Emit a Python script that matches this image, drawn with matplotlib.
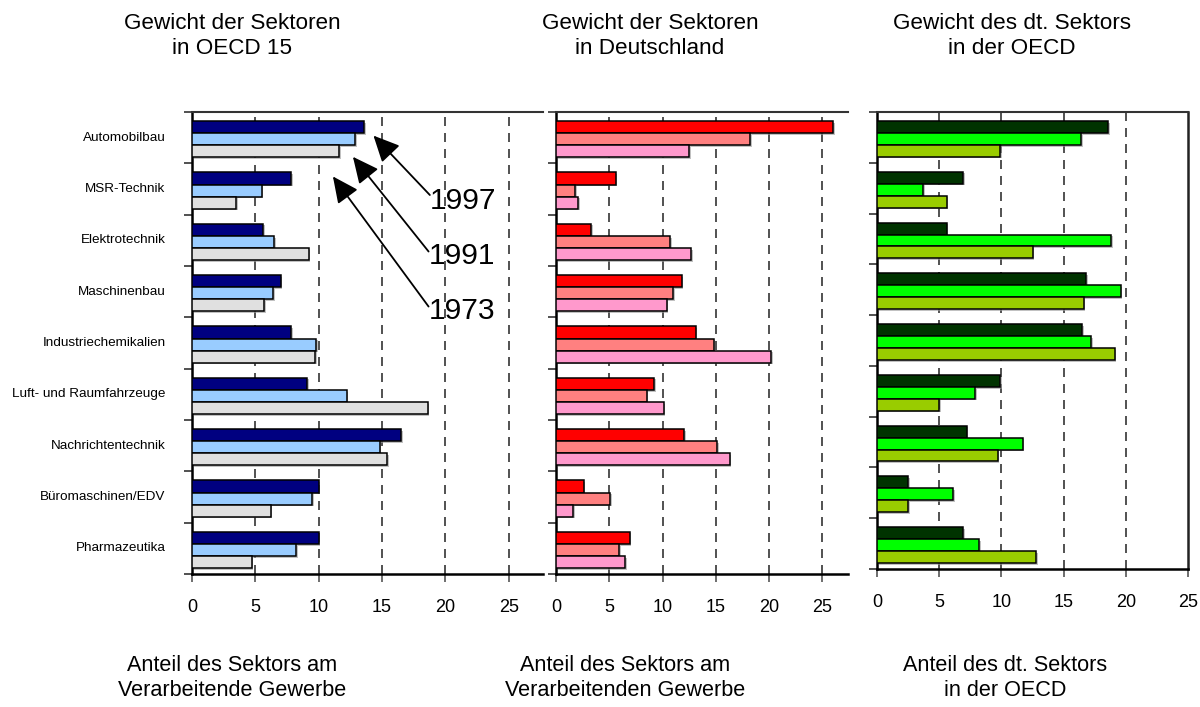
import matplotlib
matplotlib.use("Agg")
import matplotlib.pyplot as plt
import matplotlib.patheffects as pe
import numpy as np

plt.rcParams['font.family'] = ['Liberation Sans', 'DejaVu Sans']

categories = ["Automobilbau", "MSR-Technik", "Elektrotechnik", "Maschinenbau",
              "Industriechemikalien", "Luft- und Raumfahrzeuge", "Nachrichtentechnik",
              "Büromaschinen/EDV", "Pharmazeutika"]
years = ["1997", "1991", "1973"]

oecd_1997 = [13.6, 7.85, 5.6, 7.0, 7.85, 9.1, 16.5, 10.0, 10.0]
oecd_1991 = [12.9, 5.5, 6.5, 6.4, 9.8, 12.2, 14.8, 9.5, 8.2]
oecd_1973 = [11.6, 3.5, 9.2, 5.7, 9.7, 18.6, 15.4, 6.2, 4.7]

de_1997 = [26.0, 5.6, 3.3, 11.8, 13.1, 9.2, 12.0, 2.6, 6.9]
de_1991 = [18.2, 1.8, 10.7, 11.0, 14.8, 8.5, 15.1, 5.1, 5.9]
de_1973 = [12.5, 2.1, 12.7, 10.4, 20.2, 10.1, 16.3, 1.6, 6.5]

share_1997 = [18.6, 6.9, 5.6, 16.8, 16.5, 9.9, 7.2, 2.5, 6.9]
share_1991 = [16.4, 3.7, 18.8, 19.6, 17.2, 7.9, 11.7, 6.1, 8.2]
share_1973 = [9.9, 5.6, 12.5, 16.6, 19.1, 5.0, 9.7, 2.5, 12.8]

titles = ["Gewicht der Sektoren\nin OECD 15",
          "Gewicht der Sektoren\nin Deutschland",
          "Gewicht des dt. Sektors\nin der OECD"]
xlabels = ["Anteil des Sektors am\nVerarbeitende Gewerbe",
           "Anteil des Sektors am\nVerarbeitenden Gewerbe",
           "Anteil des dt. Sektors\nin der OECD"]

colors = [["#000080", "#99CCFF", "#E0E0E0"],
          ["#FF0000", "#FF8080", "#FF99CC"],
          ["#003300", "#00FF00", "#99CC00"]]

data = [[oecd_1997, oecd_1991, oecd_1973],
        [de_1997, de_1991, de_1973],
        [share_1997, share_1991, share_1973]]

W, H = 1200, 707
fig = plt.figure(figsize=(W / 100, H / 100), dpi=100)

# pixel boxes (left, right, top, bottom)
boxes = [(192, 543, 112, 574), (556, 848, 112, 574), (877, 1188, 112, 569)]
xmaxes = [27.7, 27.4, 25.0]
title_cx = [232, 650, 1012]
xlabel_cx = [232, 625, 1005]

n = len(categories)
y = np.arange(n)
bh = 0.235
axes = []
for i, (l, r, t, b) in enumerate(boxes):
    ax = fig.add_axes([l / W, 1 - b / H, (r - l) / W, (b - t) / H])
    axes.append(ax)
    for k in range(3):
        ax.barh(y + (k - 1) * bh + 0.03, data[i][k], height=bh, color=colors[i][k],
                edgecolor="black", linewidth=1.1, zorder=3,
                path_effects=[pe.SimplePatchShadow(offset=(1.2, -1.2), shadow_rgbFace="#999999", alpha=0.6), pe.Normal()])
    ax.set_xlim(0, xmaxes[i])
    ax.set_ylim(n - 0.5, -0.5)
    ax.set_xticks([0, 5, 10, 15, 20, 25])
    ax.set_xticklabels(["0", "5", "10", "15", "20", "25"], fontsize=13)
    for g in [5, 10, 15, 20, 25]:
        if g < xmaxes[i] - 0.1:
            ax.axvline(g, color="#333333", lw=1.2, ls=(0, (5.4, 4.2)), zorder=1)
    ax.set_yticks(np.arange(-0.5, n, 1.0))
    ax.set_yticklabels([])
    ax.tick_params(axis="y", direction="out", length=6, width=1.2, color="#333333")
    ax.tick_params(axis="x", direction="out", length=6, width=1.2, color="#555555", pad=12)
    ax.spines["left"].set_linewidth(1.8)
    ax.spines["bottom"].set_linewidth(1.8)
    ax.spines["top"].set_linewidth(1.5)
    ax.spines["top"].set_color("#333333")
    if i < 2:
        ax.spines["right"].set_visible(False)
    else:
        ax.spines["right"].set_linewidth(1.8)
        ax.spines["right"].set_color("#222222")
    fig.text(title_cx[i] / W, 1 - 36 / H, titles[i], ha="center", va="center",
             fontsize=16.2, linespacing=1.3)
    fig.text(xlabel_cx[i] / W, 1 - 678 / H, xlabels[i], ha="center", va="center",
             fontsize=15.6, linespacing=1.2)

ax1 = axes[0]
for k, c in enumerate(categories):
    ax1.text(-2.1, k, c, ha="right", va="center", fontsize=9.7)

# year annotations
ann_tip_x = [14.32, 12.70, 11.12]
ann_tip_y = [-0.04, 0.373, 0.755]
ann_tail_x = [18.77, 18.67, 18.67]
ann_tail_y = [1.117, 2.218, 3.29]
ann_text_y = [1.234, 2.305, 3.377]
for k in range(3):
    ax1.annotate("", xy=(ann_tip_x[k], ann_tip_y[k]), xytext=(ann_tail_x[k], ann_tail_y[k]),
                 arrowprops=dict(arrowstyle="-|>,head_length=0.8,head_width=0.38",
                                 mutation_scale=20, color="black", lw=1.3,
                                 shrinkA=0, shrinkB=0), zorder=5, annotation_clip=False)
    ax1.text(ann_tail_x[k] + 0.02, ann_text_y[k], years[k], ha="left", va="center",
             fontsize=21.6, zorder=5)

fig.savefig("out.png", dpi=100)
